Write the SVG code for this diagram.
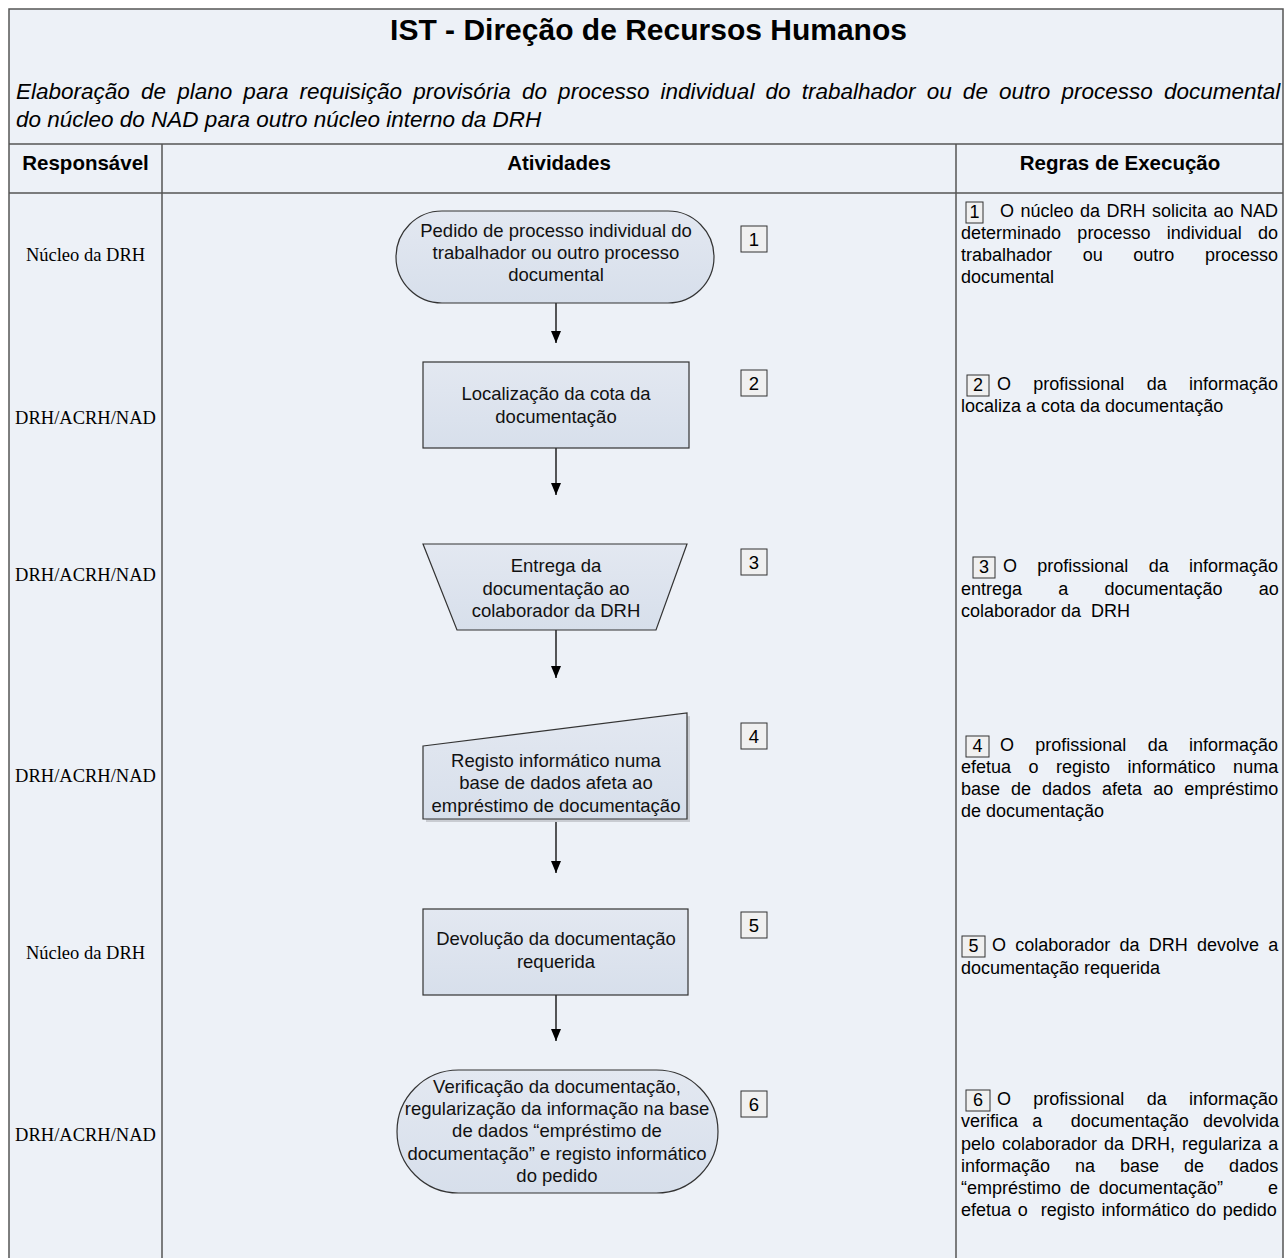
<svg xmlns="http://www.w3.org/2000/svg" width="1284" height="1258" viewBox="0 0 1284 1258">
<style>
.frame{fill:#edf1f7;stroke:#555;stroke-width:1.5}
.grid{stroke:#555;stroke-width:1.5;fill:none}
.title{font-family:"Liberation Sans",Arial,sans-serif;font-weight:bold;font-size:30px;fill:#000}
.sub{font-family:"Liberation Sans",Arial,sans-serif;font-style:italic;font-size:22.5px;fill:#000}
.hdr{font-family:"Liberation Sans",Arial,sans-serif;font-weight:bold;font-size:20.5px;fill:#000;text-anchor:middle}
.resp{font-family:"Liberation Serif","Times New Roman",serif;font-size:18.5px;fill:#000;text-anchor:middle}
.node{fill:url(#ng);stroke:#333;stroke-width:1.2}
.shadow{fill:#c9ccd2;stroke:none}
.act{font-family:"Liberation Sans",Arial,sans-serif;font-size:18.5px;fill:#111;text-anchor:middle}
.numbox{fill:#f0f0f0;stroke:#333;stroke-width:1}
.num{font-family:"Liberation Sans",Arial,sans-serif;font-size:18.5px;fill:#000;text-anchor:middle}
.rnum{font-family:"Liberation Sans",Arial,sans-serif;font-size:18px;fill:#000;text-anchor:middle}
.rule{font-family:"Liberation Sans",Arial,sans-serif;font-size:18px;fill:#000}
.conn{stroke:#000;stroke-width:1.3;fill:none;marker-end:url(#arr)}
</style>
<defs>
<linearGradient id="ng" x1="0" y1="0" x2="0" y2="1">
<stop offset="0" stop-color="#e3e8f1"/>
<stop offset="1" stop-color="#d7dfeb"/>
</linearGradient>
<marker id="arr" viewBox="0 0 12 10" refX="12" refY="5" markerWidth="12" markerHeight="10" markerUnits="userSpaceOnUse" orient="auto">
<path d="M0,0 L12,5 L0,10 z" fill="#000"/>
</marker>
</defs>
<rect width="1284" height="1258" fill="#fff"/>
<g id="frame">
<rect class="frame" x="9" y="9" width="1274" height="1262"/>
<line class="grid" x1="9" y1="144" x2="1283" y2="144"/>
<line class="grid" x1="9" y1="193" x2="1283" y2="193"/>
<line class="grid" x1="162" y1="144" x2="162" y2="1258"/>
<line class="grid" x1="956" y1="144" x2="956" y2="1258"/>
</g>
<g id="header">
<text class="title" x="648.5" y="40" text-anchor="middle">IST - Direção de Recursos Humanos</text>
<text class="sub" x="16" y="99" style="word-spacing:4.9px">Elaboração de plano para requisição provisória do processo individual do trabalhador ou de outro processo documental</text>
<text class="sub" x="16" y="127">do núcleo do NAD para outro núcleo interno da DRH</text>
<text class="hdr" x="85.5" y="170">Responsável</text>
<text class="hdr" x="559" y="170">Atividades</text>
<text class="hdr" x="1120" y="170">Regras de Execução</text>
</g>
<g id="responsaveis">
<text class="resp" x="85.5" y="261">Núcleo da DRH</text>
<text class="resp" x="85.5" y="424">DRH/ACRH/NAD</text>
<text class="resp" x="85.5" y="581">DRH/ACRH/NAD</text>
<text class="resp" x="85.5" y="782">DRH/ACRH/NAD</text>
<text class="resp" x="85.5" y="959">Núcleo da DRH</text>
<text class="resp" x="85.5" y="1141">DRH/ACRH/NAD</text>
</g>
<g id="connectors">
<line class="conn" x1="556" y1="303" x2="556" y2="343"/>
<line class="conn" x1="556" y1="448" x2="556" y2="495"/>
<line class="conn" x1="556" y1="630" x2="556" y2="678"/>
<line class="conn" x1="556" y1="819" x2="556" y2="873"/>
<line class="conn" x1="556" y1="995" x2="556" y2="1041"/>
</g>
<g id="node1">
<rect class="node" x="396" y="211" width="318" height="92" rx="46" ry="46"/>
<text class="act" x="556" y="237">Pedido de processo individual do</text>
<text class="act" x="556" y="259">trabalhador ou outro processo</text>
<text class="act" x="556" y="281">documental</text>
<rect class="numbox" x="741" y="226" width="26" height="26"/>
<text class="num" x="754" y="246">1</text>
</g>
<g id="node2">
<rect class="node" x="423" y="362" width="266" height="86"/>
<text class="act" x="556" y="400">Localização da cota da</text>
<text class="act" x="556" y="423">documentação</text>
<rect class="numbox" x="741" y="370" width="26" height="26"/>
<text class="num" x="754" y="390">2</text>
</g>
<g id="node3">
<polygon class="node" points="423,544 687,544 656,630 457,630"/>
<text class="act" x="556" y="572">Entrega da</text>
<text class="act" x="556" y="595">documentação ao</text>
<text class="act" x="556" y="617">colaborador da DRH</text>
<rect class="numbox" x="741" y="549" width="26" height="26"/>
<text class="num" x="754" y="569">3</text>
</g>
<g id="node4">
<polygon class="shadow" points="426,749 690,716 690,822 426,822"/>
<polygon class="node" points="423,746 687,713 687,819 423,819"/>
<text class="act" x="556" y="767">Registo informático numa</text>
<text class="act" x="556" y="789">base de dados afeta ao</text>
<text class="act" x="556" y="812">empréstimo de documentação</text>
<rect class="numbox" x="741" y="723" width="26" height="26"/>
<text class="num" x="754" y="743">4</text>
</g>
<g id="node5">
<rect class="node" x="423" y="909" width="265" height="86"/>
<text class="act" x="556" y="945">Devolução da documentação</text>
<text class="act" x="556" y="968">requerida</text>
<rect class="numbox" x="741" y="912" width="26" height="26"/>
<text class="num" x="754" y="932">5</text>
</g>
<g id="node6">
<rect class="node" x="397" y="1070" width="321" height="123" rx="61.5" ry="61.5"/>
<text class="act" x="557" y="1093">Verificação da documentação,</text>
<text class="act" x="557" y="1115">regularização da informação na base</text>
<text class="act" x="557" y="1137">de dados “empréstimo de</text>
<text class="act" x="557" y="1160">documentação” e registo informático</text>
<text class="act" x="557" y="1182">do pedido</text>
<rect class="numbox" x="741" y="1091" width="26" height="26"/>
<text class="num" x="754" y="1111">6</text>
</g>
<g id="rule1">
<rect class="numbox" x="966" y="202" width="17" height="21"/>
<text class="rnum" x="974.5" y="218">1</text>
<text class="rule" x="1000" y="217" style="word-spacing:1.5px">O núcleo da DRH solicita ao NAD</text>
<text class="rule" x="961" y="239" style="word-spacing:11.3px">determinado processo individual do</text>
<text class="rule" x="961" y="261" style="word-spacing:25.6px">trabalhador ou outro processo</text>
<text class="rule" x="961" y="283">documental</text>
</g>
<g id="rule2">
<rect class="numbox" x="967" y="375" width="22" height="21"/>
<text class="rnum" x="978" y="391">2</text>
<text class="rule" x="997" y="390" style="word-spacing:17.3px">O profissional da informação</text>
<text class="rule" x="961" y="412">localiza a cota da documentação</text>
</g>
<g id="rule3">
<rect class="numbox" x="973" y="557" width="22" height="21"/>
<text class="rnum" x="984" y="573">3</text>
<text class="rule" x="1003" y="572" style="word-spacing:15.3px">O profissional da informação</text>
<text class="rule" x="961" y="595" style="word-spacing:31.2px">entrega a documentação ao</text>
<text class="rule" x="961" y="617" xml:space="preserve">colaborador da  DRH</text>
</g>
<g id="rule4">
<rect class="numbox" x="966" y="736" width="23" height="21"/>
<text class="rnum" x="977.5" y="752">4</text>
<text class="rule" x="1000" y="751" style="word-spacing:16.3px">O profissional da informação</text>
<text class="rule" x="961" y="773" style="word-spacing:12.5px">efetua o registo informático numa</text>
<text class="rule" x="961" y="795" style="word-spacing:6px">base de dados afeta ao empréstimo</text>
<text class="rule" x="961" y="817">de documentação</text>
</g>
<g id="rule5">
<rect class="numbox" x="962" y="936" width="23" height="21"/>
<text class="rnum" x="973.5" y="952">5</text>
<text class="rule" x="992" y="951" style="word-spacing:4.2px">O colaborador da DRH devolve a</text>
<text class="rule" x="961" y="974">documentação requerida</text>
</g>
<g id="rule6">
<rect class="numbox" x="966" y="1090" width="24" height="21"/>
<text class="rnum" x="978" y="1106">6</text>
<text class="rule" x="997" y="1105" style="word-spacing:17.3px">O profissional da informação</text>
<text class="rule" x="961" y="1127" xml:space="preserve" style="word-spacing:9.2px">verifica a  documentação devolvida</text>
<text class="rule" x="961" y="1150" style="word-spacing:2px">pelo colaborador da DRH, regulariza a</text>
<text class="rule" x="961" y="1172" style="word-spacing:20px">informação na base de dados</text>
<text class="rule" x="961" y="1194" style="word-spacing:3.9px">“empréstimo de documentação”</text>
<text class="rule" x="1278" y="1194" text-anchor="end">e</text>
<text class="rule" x="961" y="1216" xml:space="preserve" style="word-spacing:1.6px">efetua o  registo informático do pedido</text>
</g>
</svg>
